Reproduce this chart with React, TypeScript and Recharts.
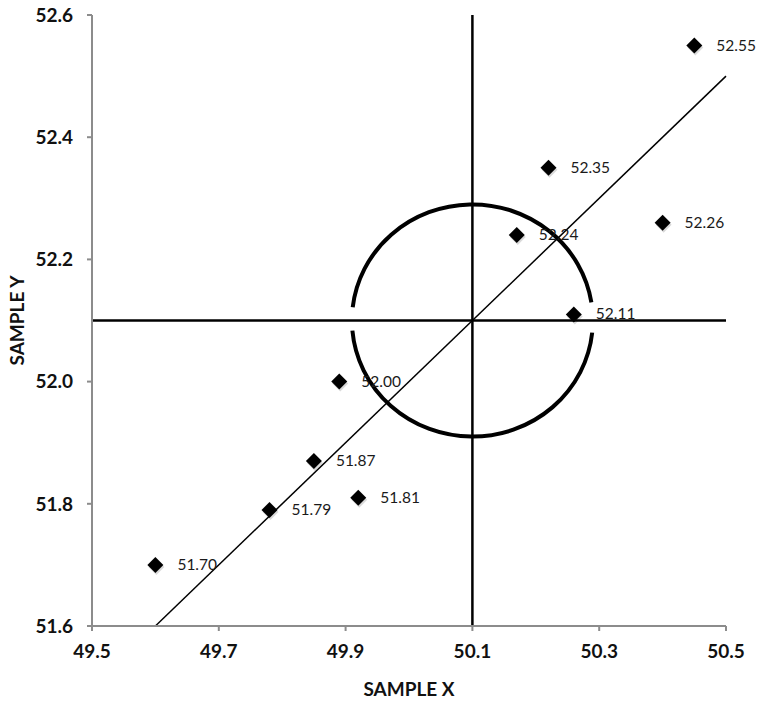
import {
  ScatterChart,
  Scatter,
  XAxis,
  YAxis,
  ReferenceLine,
  ReferenceArea,
} from "recharts";

const sampleX = [49.6, 49.78, 49.85, 49.89, 49.92, 50.17, 50.22, 50.26, 50.4, 50.45];
const sampleY = [51.7, 51.79, 51.87, 52.0, 51.81, 52.24, 52.35, 52.11, 52.26, 52.55];

const xTicks = [49.5, 49.7, 49.9, 50.1, 50.3, 50.5];
const yTicks = [51.6, 51.8, 52.0, 52.2, 52.4, 52.6];

// crosshair centre, circle radius and the 1:1 trend line ends
const center = { x: 50.1, y: 52.1 };
const radius = 0.19;
const trendLine = [
  { x: 49.6, y: 51.6 },
  { x: 50.5, y: 52.5 },
];

const points = sampleX.map((x, i) => ({ x, y: sampleY[i] }));

const FONT = "Lato, 'Liberation Sans', sans-serif";

function Diamond(props: any) {
  const { cx, cy, payload } = props;
  const s = 8;
  const d = (ox: number, oy: number) =>
    `M${cx + ox},${cy - s + oy} L${cx + s + ox},${cy + oy} L${cx + ox},${cy + s + oy} L${cx - s + ox},${cy + oy} Z`;
  return (
    <g>
      <path d={d(1, 2)} fill="rgba(0,0,0,0.15)" />
      <path d={d(0, 0)} fill="#000" />
      <text
        x={cx + 22}
        y={cy + 5}
        fontSize={15.5}
        fontFamily={FONT}
        fill="#1a1a1a"
      >
        {payload.y.toFixed(2)}
      </text>
    </g>
  );
}

// circle broken where the horizontal crosshair passes through it
function BrokenCircle(props: any) {
  const { x, y, width, height } = props;
  const cx = x + width / 2;
  const cy = y + height / 2;
  const rx = width / 2;
  const ry = height / 2;
  const pt = (deg: number) => {
    const a = (deg * Math.PI) / 180;
    return `${cx + rx * Math.cos(a)},${cy - ry * Math.sin(a)}`;
  };
  const upper = `M${pt(173.5)} A${rx},${ry} 0 0 1 ${pt(9)}`;
  const lower = `M${pt(-175)} A${rx},${ry} 0 0 0 ${pt(-6)}`;
  return (
    <g fill="none" stroke="#000" strokeWidth={4}>
      <path d={upper} />
      <path d={lower} />
    </g>
  );
}

const tickStyle = { fontSize: 19, fontWeight: 700, fontFamily: FONT, fill: "#111" };
const titleStyle = { fontSize: 19, fontWeight: 700, fontFamily: FONT, fill: "#111" };

export default function App() {
  return (
    <>
      <style>{`body { margin: 0; }`}</style>
      <ScatterChart
        width={759}
        height={701}
        margin={{ top: 15, right: 33, left: 0, bottom: 0 }}
      >
        <XAxis
          type="number"
          dataKey="x"
          domain={[49.5, 50.5]}
          ticks={xTicks}
          tickFormatter={(v: number) => v.toFixed(1)}
          height={75}
          stroke="#8c8c8c"
          strokeWidth={2}
          tickSize={5}
          tickMargin={14}
          tick={tickStyle}
          label={{
            value: "SAMPLE X",
            position: "insideBottom",
            offset: 5,
            style: titleStyle,
          }}
        />
        <YAxis
          type="number"
          dataKey="y"
          domain={[51.6, 52.6]}
          ticks={yTicks}
          tickFormatter={(v: number) => v.toFixed(1)}
          width={92}
          stroke="#8c8c8c"
          strokeWidth={2}
          tickSize={5}
          tickMargin={14}
          tick={tickStyle}
          label={{
            value: "SAMPLE Y",
            angle: -90,
            position: "insideLeft",
            offset: 17,
            style: { ...titleStyle, textAnchor: "middle" },
          }}
        />
        <ReferenceLine x={center.x} stroke="#000" strokeWidth={2.5} />
        <ReferenceLine y={center.y} stroke="#000" strokeWidth={2.5} />
        <ReferenceLine segment={trendLine} stroke="#000" strokeWidth={1.5} />
        <ReferenceArea
          x1={center.x - radius}
          x2={center.x + radius}
          y1={center.y - radius}
          y2={center.y + radius}
          shape={<BrokenCircle />}
        />
        <Scatter data={points} shape={<Diamond />} isAnimationActive={false} />
      </ScatterChart>
    </>
  );
}
